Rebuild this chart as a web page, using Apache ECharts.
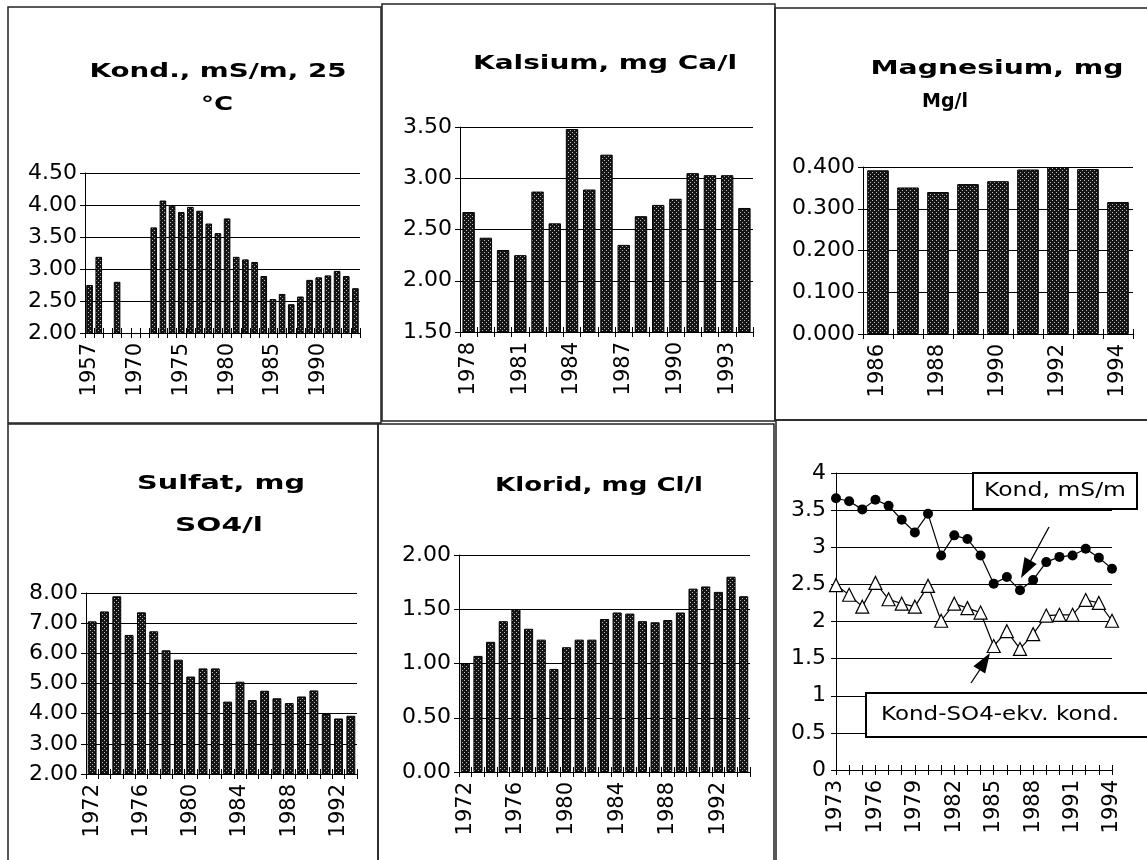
<!DOCTYPE html>
<html><head><meta charset="utf-8">
<script src="https://cdn.jsdelivr.net/npm/echarts@6/dist/echarts.min.js"></script>
<style>html,body{margin:0;padding:0;background:#fff}#c{width:1147px;height:860px}</style>
</head><body><div id="c"></div>
<script>
// ---------- DATA ----------
const kondYears = ['1957','1958','1962','1966','1968','1970','1971','1972','1973','1974','1975','1976','1977','1978','1979','1980','1981','1982','1983','1984','1985','1986','1987','1988','1989','1990','1991','1992','1993','1994'];
const kondValues = [2.75,3.19,null,2.80,null,null,null,3.65,4.07,3.99,3.89,3.97,3.91,3.71,3.56,3.79,3.19,3.15,3.11,2.89,2.53,2.61,2.45,2.57,2.83,2.87,2.90,2.97,2.89,2.70];

const kalsYears = ['1978','1979','1980','1981','1982','1983','1984','1985','1986','1987','1988','1989','1990','1991','1992','1993','1994'];
const kalsValues = [2.67,2.42,2.30,2.25,2.87,2.56,3.48,2.89,3.23,2.35,2.63,2.74,2.80,3.05,3.03,3.03,2.71];

const magnYears = ['1986','1987','1988','1989','1990','1991','1992','1993','1994'];
const magnValues = [0.392,0.351,0.340,0.359,0.366,0.394,0.400,0.395,0.316];

const sulfYears = ['1972','1973','1974','1975','1976','1977','1978','1979','1980','1981','1982','1983','1984','1985','1986','1987','1988','1989','1990','1991','1992','1993'];
const sulfValues = [7.06,7.39,7.89,6.61,7.36,6.73,6.10,5.79,5.23,5.50,5.50,4.40,5.06,4.45,4.76,4.51,4.35,4.57,4.77,3.99,3.84,3.93];

const klorYears = ['1972','1973','1974','1975','1976','1977','1978','1979','1980','1981','1982','1983','1984','1985','1986','1987','1988','1989','1990','1991','1992','1993','1994'];
const klorValues = [1.00,1.07,1.20,1.39,1.50,1.32,1.22,0.95,1.15,1.22,1.22,1.41,1.47,1.46,1.39,1.38,1.40,1.47,1.69,1.71,1.66,1.80,1.62];

const lineYears = ['1973','1974','1975','1976','1977','1978','1979','1980','1981','1982','1983','1984','1985','1986','1987','1988','1989','1990','1991','1992','1993','1994'];
const lineKond = [3.66,3.62,3.51,3.64,3.56,3.37,3.20,3.45,2.89,3.16,3.11,2.89,2.51,2.60,2.42,2.56,2.80,2.87,2.89,2.98,2.86,2.71];
const lineKondSO4 = [2.49,2.36,2.20,2.52,2.30,2.24,2.20,2.48,2.01,2.24,2.18,2.12,1.67,1.87,1.63,1.83,2.08,2.09,2.09,2.29,2.25,2.01];

const titles = {
  kond: ['Kond., mS/m, 25', '°C'],
  kals: ['Kalsium, mg Ca/l'],
  magn: ['Magnesium, mg', 'Mg/l'],
  sulf: ['Sulfat, mg', 'SO4/l'],
  klor: ['Klorid, mg Cl/l']
};
const legendKond = 'Kond, mS/m';
const legendKondSO4 = 'Kond-SO4-ekv. kond.';

// ---------- STYLE HELPERS ----------
const FF = 'DejaVu Sans';
const pat = document.createElement('canvas');
pat.width = 4; pat.height = 4;
(function(){
  const g = pat.getContext('2d');
  g.fillStyle = '#151515'; g.fillRect(0,0,4,4);
  g.fillStyle = '#bbb'; g.fillRect(0,0,1,1); g.fillRect(2,2,1,1);
})();
const barFill = { image: pat, repeat: 'repeat' };

const mc = document.createElement('canvas').getContext('2d');
function scaleFor(text, font, target){ mc.font = font; return target / mc.measureText(text).width; }

const grids = [
  {left:85, top:173, width:275, height:160},
  {left:460, top:127, width:293, height:205},
  {left:863, top:167, width:270, height:167},
  {left:86, top:593, width:271, height:181},
  {left:459, top:555, width:291, height:217},
  {left:836, top:473, width:276, height:297}
];

function xPair(gi, data, labelInterval, boundaryGap){
  const base = {type:'category', gridIndex:gi, data:data, position:'bottom', boundaryGap:boundaryGap};
  return [
    Object.assign({}, base, {
      axisLine:{show:true, onZero:false, lineStyle:{color:'#000', width:1}},
      axisTick:{show:true, interval:0, length:5, lineStyle:{color:'#000'}},
      axisLabel:{interval:labelInterval, rotate:90, fontFamily:FF, fontSize:21, color:'#000', margin:10},
      splitLine:{show:false}
    }),
    Object.assign({}, base, {
      axisLine:{show:false, onZero:false},
      axisTick:{show:true, inside:true, interval:0, length:5, lineStyle:{color:'#000'}},
      axisLabel:{show:false},
      splitLine:{show:false}
    })
  ];
}
function yAx(gi, min, max, interval, fmt){
  return {type:'value', gridIndex:gi, min:min, max:max, interval:interval,
    axisLine:{show:true, lineStyle:{color:'#000', width:1}},
    axisTick:{show:true, length:5, lineStyle:{color:'#000'}},
    splitLine:{show:true, lineStyle:{color:'#000', width:1}},
    axisLabel:{formatter:fmt, fontFamily:FF, fontSize:22, color:'#000', margin:8}};
}
function barSeries(gi, data){
  return {type:'bar', xAxisIndex:gi*2, yAxisIndex:gi, data:data, barCategoryGap:'28%', clip:true,
    itemStyle:{color:barFill, borderColor:'#000', borderWidth:1}, silent:true};
}

const f2 = v => v.toFixed(2), f3 = v => v.toFixed(3), f0 = v => String(v);

const xAxis = [].concat(
  xPair(0, kondYears, 4, true),
  xPair(1, kalsYears, 2, true),
  xPair(2, magnYears, 1, true),
  xPair(3, sulfYears, 3, true),
  xPair(4, klorYears, 3, true),
  xPair(5, lineYears, 2, false)
);
const yAxis = [
  yAx(0, 2, 4.5, 0.5, f2),
  yAx(1, 1.5, 3.5, 0.5, f2),
  yAx(2, 0, 0.4, 0.1, f3),
  yAx(3, 2, 8, 1, f2),
  yAx(4, 0, 2, 0.5, f2),
  yAx(5, 0, 4, 0.5, f0)
];
yAxis[5].axisLabel.margin = 10;

const series = [
  barSeries(0, kondValues),
  barSeries(1, kalsValues),
  barSeries(2, magnValues),
  barSeries(3, sulfValues),
  barSeries(4, klorValues),
  {type:'line', name:legendKond, xAxisIndex:10, yAxisIndex:5, data:lineKond, symbol:'circle', symbolSize:10,
    showSymbol:true, showAllSymbol:true,
    itemStyle:{color:'#000'}, lineStyle:{color:'#000', width:1.2}, z:5},
  {type:'line', name:legendKondSO4, xAxisIndex:10, yAxisIndex:5, data:lineKondSO4, symbol:'triangle', symbolSize:13,
    showSymbol:true, showAllSymbol:true,
    itemStyle:{color:'#fff', borderColor:'#000', borderWidth:1.2}, lineStyle:{color:'#000', width:1.2}, z:5}
];

// ---------- GRAPHICS (frames, titles, legend, arrows) ----------
const TF = 'bold 20px "' + FF + '"';
const LF = '20px "' + FF + '"';
function titleText(text, cx, cy, targetW){
  return {type:'text', x:cx, y:cy, scaleX:scaleFor(text, TF, targetW), z:100,
    style:{text:text, font:TF, fill:'#000', textAlign:'center', textVerticalAlign:'middle'}};
}
function legText(text, cx, cy, targetW){
  return {type:'text', x:cx, y:cy, scaleX:scaleFor(text, LF, targetW), z:102,
    style:{text:text, font:LF, fill:'#000', textAlign:'center', textVerticalAlign:'middle'}};
}
function frame(x1,y1,x2,y2){
  return {type:'rect', shape:{x:x1, y:y1, width:x2-x1, height:y2-y1}, z:100,
    style:{fill:null, stroke:'#222', lineWidth:1.5}};
}
const graphic = [
  frame(8,7,381,423), frame(382,4,775,421), frame(775,8,1150,420),
  frame(8,424,378,870), frame(378,424,774,870), frame(776,420,1150,870),
  titleText(titles.kond[0], 218, 72, 257), titleText(titles.kond[1], 217, 105, 32),
  titleText(titles.kals[0], 605, 64, 264),
  titleText(titles.magn[0], 997, 69, 253), titleText(titles.magn[1], 945, 102, 46),
  titleText(titles.sulf[0], 221, 484, 168), titleText(titles.sulf[1], 219, 526, 88),
  titleText(titles.klor[0], 599, 486, 208),
  {type:'rect', shape:{x:973, y:473, width:164, height:36}, z:101, style:{fill:'#fff', stroke:'#000', lineWidth:2}},
  legText(legendKond, 1055, 491, 142),
  {type:'rect', shape:{x:866, y:693, width:290, height:44}, z:101, style:{fill:'#fff', stroke:'#000', lineWidth:2}},
  legText(legendKondSO4, 1000, 715, 238),
  {type:'line', shape:{x1:1049, y1:527, x2:1030, y2:562}, z:103, style:{stroke:'#000', lineWidth:1.3}},
  {type:'polygon', shape:{points:[[1021,578],[1036.7,563.9],[1024.5,557.1]]}, z:103, style:{fill:'#000'}},
  {type:'line', shape:{x1:971, y1:683, x2:981, y2:668}, z:103, style:{stroke:'#000', lineWidth:1.3}},
  {type:'polygon', shape:{points:[[990,653],[985.2,673.6],[973.4,666.2]]}, z:103, style:{fill:'#000'}}
];

const chart = echarts.init(document.getElementById('c'), null, {renderer:'canvas'});
chart.setOption({
  animation:false,
  backgroundColor:'#fff',
  grid: grids,
  xAxis: xAxis,
  yAxis: yAxis,
  series: series,
  graphic: graphic
});
</script></body></html>
